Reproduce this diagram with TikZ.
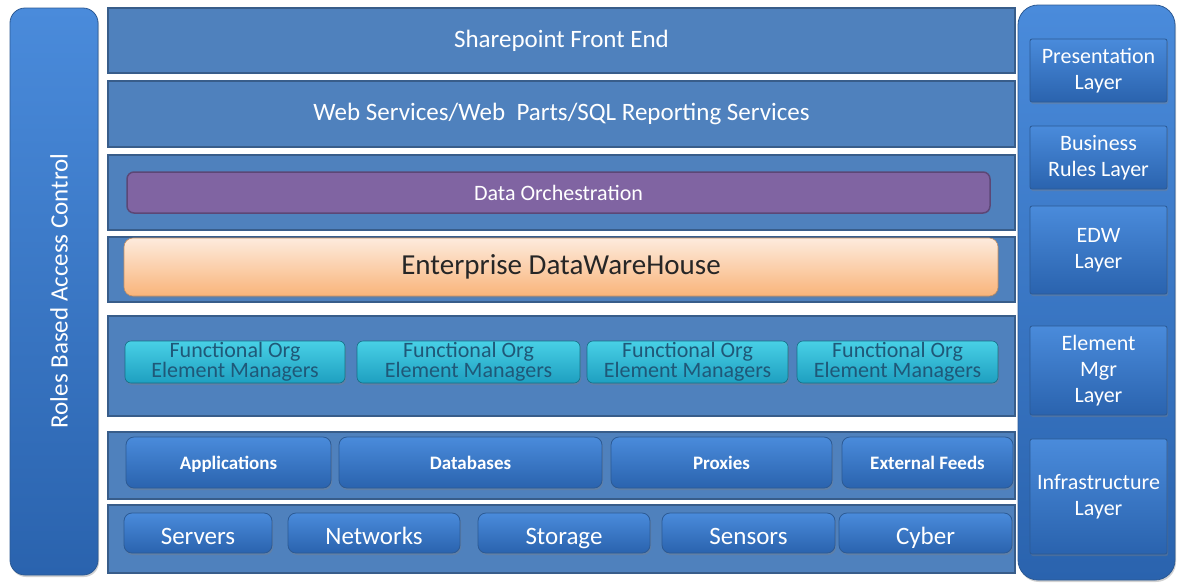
\documentclass[tikz,border=0pt]{standalone}
\usepackage{fontspec}
\setmainfont{Carlito}
\usetikzlibrary{shadows}
\definecolor{panelblue}{HTML}{4F81BD}
\definecolor{panelline}{HTML}{385D8A}
\definecolor{btntop}{HTML}{4A8BDB}
\definecolor{btnbot}{HTML}{2A63AE}
\definecolor{btnline}{HTML}{2C5A94}
\definecolor{orchpurple}{HTML}{8064A2}
\definecolor{orchline}{HTML}{5C4776}
\definecolor{edwtop}{HTML}{FDEBDD}
\definecolor{edwbot}{HTML}{F9B47A}
\definecolor{fomtop}{HTML}{48D0E6}
\definecolor{fombot}{HTML}{1E9FC0}
\definecolor{fomtext}{HTML}{1F5878}
\tikzset{
  panel/.style={draw=panelline, line width=1.2pt, fill=panelblue, inner sep=0pt},
  btn/.style={draw=btnline, line width=0.8pt, rounded corners=8pt, top color=btntop, bottom color=btnbot,
    inner sep=0pt, text=white, drop shadow={opacity=0.35, shadow xshift=1pt, shadow yshift=-2pt}},
  layerbox/.style={btn, rounded corners=2pt, align=center, font=\fontsize{22}{26}\selectfont},
  fom/.style={draw=fombot!70!black, line width=0.6pt, rounded corners=6pt, top color=fomtop, bottom color=fombot,
    inner sep=0pt, text=fomtext, align=center, font=\fontsize{22}{19}\selectfont,
    drop shadow={opacity=0.35, shadow xshift=1pt, shadow yshift=-2pt}},
  srcbox/.style={btn, text height=16pt, text depth=3pt, font=\bfseries\fontsize{19}{22}\selectfont},
  infbox/.style={btn, text height=25pt, text depth=3pt, font=\fontsize{25}{28}\selectfont}
}
\begin{document}
\begin{tikzpicture}[x=1pt,y=-1pt]
\useasboundingbox[fill=white] (0,0) rectangle (1177,582);
% side bars
\node[btn, rounded corners=15pt, minimum width=88pt, minimum height=567pt] (rbac) at (54,291.5) {};
\node[rotate=90, text=white, font=\fontsize{25}{28}\selectfont] (rbactext) at (59,291) {Roles Based Access Control};
\node[btn, rounded corners=20pt, minimum width=157pt, minimum height=575pt] (layers) at (1096.5,292.5) {};
% main panels
\node[panel, minimum width=907pt, minimum height=65pt, text=white, font=\fontsize{25}{28}\selectfont] (front) at (561.5,40.5) {Sharepoint Front End};
\node[panel, minimum width=907pt, minimum height=66pt, text=white, font=\fontsize{25}{28}\selectfont] (websvc) at (561.5,114) {Web Services/Web~ Parts/SQL Reporting Services};
\node[panel, minimum width=907pt, minimum height=75pt] (orchpanel) at (561.5,192.5) {};
\node[panel, minimum width=907pt, minimum height=65pt] (edwpanel) at (561.5,269.5) {};
\node[panel, minimum width=907pt, minimum height=100pt] (fompanel) at (561.5,366) {};
\node[panel, minimum width=907pt, minimum height=67pt] (srcpanel) at (561.5,465.5) {};
\node[panel, minimum width=907pt, minimum height=68pt] (infpanel) at (561.5,539) {};
% data orchestration + warehouse
\node[draw=orchline, line width=1.5pt, fill=orchpurple, rounded corners=7pt, minimum width=863pt, minimum height=41pt,
  inner sep=0pt, text=white, font=\fontsize{22}{25}\selectfont] (orch) at (558.5,192.5) {Data Orchestration};
\node[draw=edwbot!80!black, line width=0.6pt, top color=edwtop, bottom color=edwbot, rounded corners=9pt,
  minimum width=874pt, minimum height=58pt, inner sep=0pt, text=black!85, font=\fontsize{29}{32}\selectfont,
  drop shadow={opacity=0.3, shadow xshift=1pt, shadow yshift=-2pt}] (edw) at (561,267) {Enterprise DataWareHouse};
% element managers
\node[fom, minimum width=220pt, minimum height=42pt] (fom1) at (235,362) {Functional Org\\Element Managers};
\node[fom, minimum width=223pt, minimum height=42pt] (fom2) at (468.5,362) {Functional Org\\Element Managers};
\node[fom, minimum width=201pt, minimum height=42pt] (fom3) at (687.5,362) {Functional Org\\Element Managers};
\node[fom, minimum width=201pt, minimum height=42pt] (fom4) at (897.5,362) {Functional Org\\Element Managers};
% sources
\node[srcbox, minimum width=205pt, minimum height=51pt] (apps) at (228.5,462.5) {Applications};
\node[srcbox, minimum width=263pt, minimum height=51pt] (dbs) at (470.5,462.5) {Databases};
\node[srcbox, minimum width=221pt, minimum height=51pt] (proxies) at (721.5,462.5) {Proxies};
\node[srcbox, minimum width=171pt, minimum height=51pt] (feeds) at (927.5,462.5) {External Feeds};
% infrastructure
\node[infbox, minimum width=148pt, minimum height=40pt] (servers) at (198,533) {Servers};
\node[infbox, minimum width=172pt, minimum height=40pt] (networks) at (374,533) {Networks};
\node[infbox, minimum width=172pt, minimum height=40pt] (storage) at (564,533) {Storage};
\node[infbox, minimum width=173pt, minimum height=40pt] (sensors) at (748.5,533) {Sensors};
\node[infbox, minimum width=173pt, minimum height=40pt] (cyber) at (925.5,533) {Cyber};
% layer labels
\node[layerbox, minimum width=137pt, minimum height=63pt] (lpres) at (1098.5,70.5) {Presentation\\Layer};
\node[layerbox, minimum width=137pt, minimum height=63pt] (lbus) at (1098.5,157.5) {Business\\Rules Layer};
\node[layerbox, minimum width=137pt, minimum height=88pt] (ledw) at (1098.5,250) {EDW\\Layer};
\node[layerbox, minimum width=137pt, minimum height=89pt] (lelem) at (1098.5,370.5) {Element\\Mgr\\Layer};
\node[layerbox, minimum width=137pt, minimum height=115pt] (linf) at (1098.5,496.5) {Infrastructure\\Layer};
\end{tikzpicture}
\end{document}
